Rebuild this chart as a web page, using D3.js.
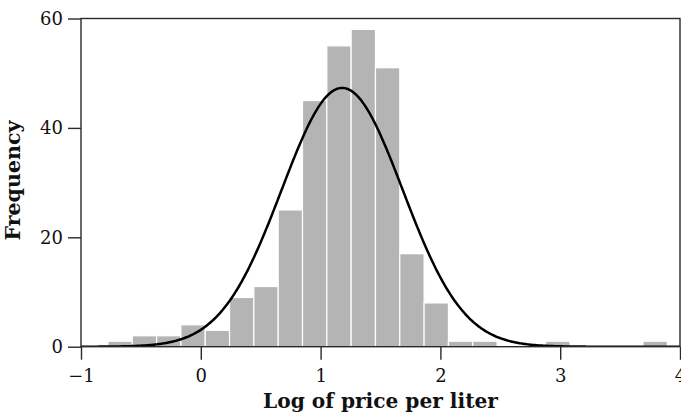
<!DOCTYPE html>
<html><head><meta charset="utf-8">
<script src="https://cdn.jsdelivr.net/npm/d3@7"></script>
<style>body{margin:0;background:#fff;overflow:hidden}</style>
</head><body><svg id="c" width="681" height="416"></svg>
<script>
// ---- data ----
const binStart = -0.775;      // left edge of first bin
const binWidth = 0.203;       // bin width (log units)
const counts = [1, 2, 2, 4, 3, 9, 11, 25, 45, 55, 58, 51, 17, 8, 1, 1, 0, 0, 1, 0, 0, 0, 1];
const xTicks = [-1, 0, 1, 2, 3, 4];
const yTicks = [0, 20, 40, 60];
const fitMean = 1.18;         // fitted normal curve parameters
const fitSd = 0.505;
const xLabel = "Log of price per liter";
const yLabel = "Frequency";

// ---- layout ----
const pL = 81, pR = 680, pT = 18.5, pB = 346.7;
const serif = "'DejaVu Serif', 'Liberation Serif', serif";

const svg = d3.select("#c");
const x = d3.scaleLinear().domain([-1, 4]).range([pL, pR]);
const y = d3.scaleLinear().domain([0, 60]).range([pB, pT]);

svg.append("defs").append("clipPath").attr("id", "plot")
  .append("rect").attr("x", pL).attr("y", pT).attr("width", pR - pL).attr("height", pB - pT);

// bars
svg.append("g").selectAll("rect").data(counts).join("rect")
  .attr("x", (d, i) => x(binStart + i * binWidth))
  .attr("width", x(binWidth) - x(0))
  .attr("y", d => y(d))
  .attr("height", d => y(0) - y(d))
  .attr("fill", "#b4b4b4")
  .attr("stroke", "#ffffff")
  .attr("stroke-width", 1.2);

// fitted normal curve scaled to counts
const total = d3.sum(counts);
const xs = d3.range(-1, 4.0001, 0.01);
const dens = v => total * binWidth / (fitSd * Math.sqrt(2 * Math.PI)) * Math.exp(-0.5 * ((v - fitMean) / fitSd) ** 2);
svg.append("path")
  .datum(xs)
  .attr("clip-path", "url(#plot)")
  .attr("fill", "none")
  .attr("stroke", "#000")
  .attr("stroke-width", 2.5)
  .attr("d", d3.line().x(d => x(d)).y(d => y(dens(d))));

// frame
svg.append("rect")
  .attr("x", pL).attr("y", pT).attr("width", pR - pL).attr("height", pB - pT)
  .attr("fill", "none").attr("stroke", "#2a2a2a").attr("stroke-width", 1.4);

// axes
const fmt = d3.format("");
const xa = svg.append("g").attr("transform", `translate(0,${pB})`)
  .call(d3.axisBottom(x).tickValues(xTicks).tickFormat(fmt).tickSize(13).tickPadding(10));
const ya = svg.append("g").attr("transform", `translate(${pL},0)`)
  .call(d3.axisLeft(y).tickValues(yTicks).tickFormat(fmt).tickSize(13).tickPadding(5));
[xa, ya].forEach(a => {
  a.select(".domain").remove();
  a.selectAll("line").attr("stroke", "#2a2a2a").attr("stroke-width", 1.4);
  a.selectAll("text").attr("font-family", serif).attr("font-size", 18).attr("fill", "#111");
});

// axis titles (font size fitted to the reference width)
function fitText(sel, target) {
  const w = sel.node().getComputedTextLength();
  sel.attr("font-size", 20 * target / w);
}
const xt = svg.append("text").text(xLabel)
  .attr("x", (pL + pR) / 2).attr("y", 408)
  .attr("text-anchor", "middle").attr("font-family", serif).attr("font-weight", "bold")
  .attr("font-size", 20).attr("fill", "#111");
fitText(xt, 235);
const yt = svg.append("text").text(yLabel)
  .attr("transform", `translate(20,${(pT + pB) / 2 - 2}) rotate(-90)`)
  .attr("text-anchor", "middle").attr("font-family", serif).attr("font-weight", "bold")
  .attr("font-size", 20).attr("fill", "#111");
fitText(yt, 120);
</script>
</body></html>
